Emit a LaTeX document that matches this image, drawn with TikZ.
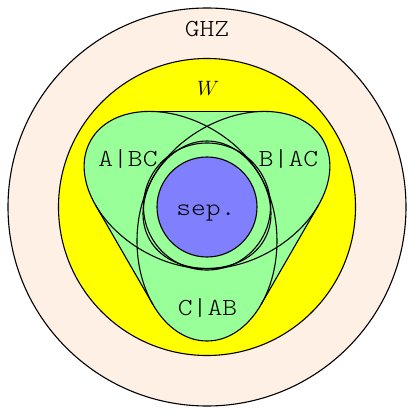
\documentclass[tikz,border=0pt]{standalone}
\usepackage{fontspec}
\newfontfamily\labfont{lmmonolt10-regular.otf}[FakeStretch=1.15]
\definecolor{peach}{RGB}{255,240,229}
\definecolor{wyellow}{RGB}{255,255,0}
\definecolor{bigreen}{RGB}{153,255,153}
\definecolor{sepblue}{RGB}{128,128,255}
\tikzset{
  lab/.style={inner sep=0pt, anchor=base, font=\labfont\fontsize{24.5}{24.5}\selectfont},
  wlab/.style={inner sep=0pt, anchor=base, font=\fontsize{22}{22}\selectfont},
  ell/.style={x radius=100, y radius=70},
}
\begin{document}
\begin{tikzpicture}[x=1pt,y=1pt,line width=1.1pt]
\useasboundingbox (-207,-208) rectangle (208,207);
% GHZ
\draw[fill=peach] (0,0) circle[radius=199];
% W
\draw[fill=wyellow] (0,0) circle[radius=148.5];
% biseparable hull
\fill[bigreen] (1.05:111.57) -- (58.95:111.57) -- (121.05:111.57) -- (178.95:111.57)
  -- (241.05:111.57) -- (298.95:111.57) -- cycle;
\foreach \r in {30,150,270}{
  \fill[bigreen, rotate=\r] (34,0) ellipse[ell];
}
\draw (58.95:111.57) -- (121.05:111.57);
\draw (178.95:111.57) -- (241.05:111.57);
\draw (298.95:111.57) -- (1.05:111.57);
\foreach \r in {30,150,270}{
  \draw[rotate=\r] (34,0) ellipse[ell];
}
\draw (0,0.5) circle[radius=63.5];
\draw[fill=sepblue] (0,0) circle[radius=50];
% labels
\node[lab] (ghz) at (0,170.3) {GHZ};
\node[wlab] (w) at (1,111) {$W$};
\node[lab] (abc) at (-79,41) {A|BC};
\node[lab] (bac) at (81.5,41) {B|AC};
\node[lab] (cab) at (0.5,-108) {C|AB};
\node[lab] (sep) at (-1,-9) {sep.};
\end{tikzpicture}
\end{document}
